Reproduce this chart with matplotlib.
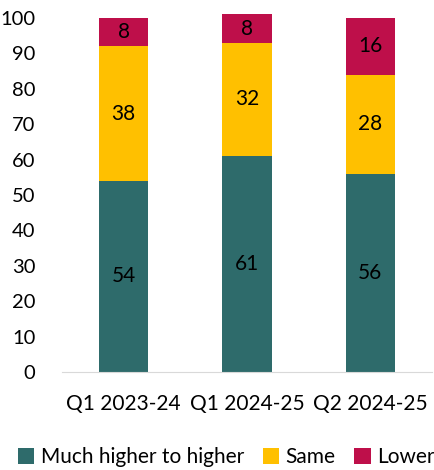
import matplotlib.pyplot as plt
import numpy as np

plt.rcParams['font.family'] = ['Lato', 'DejaVu Sans']

quarters = ['Q1 2023-24', 'Q1 2024-25', 'Q2 2024-25']
higher = [54, 61, 56]
same = [38, 32, 28]
lower = [8, 8, 16]

series = [('Much higher to higher', higher, '#2E6B6B'),
          ('Same', same, '#FFC000'),
          ('Lower', lower, '#BE0F4A')]

fig = plt.figure(figsize=(4.35, 4.7), dpi=100)
ax = fig.add_axes([0.1425, 0.2085, 0.8505, 0.7532])

x = np.arange(len(quarters))
bottom = np.zeros(len(quarters))
for name, vals, col in series:
    bars = ax.bar(x, vals, 0.4, bottom=bottom, color=col, label=name, clip_on=False)
    for b, v in zip(bars, vals):
        ax.text(b.get_x() + b.get_width() / 2, b.get_y() + v / 2, str(v),
                ha='center', va='center', fontsize=15, color='black')
    bottom += np.array(vals)

ax.set_xlim(-0.5, 2.5)
ax.set_ylim(0, 100)
ax.set_yticks(range(0, 101, 10))
ax.set_xticks(x)
ax.set_xticklabels(quarters)
ax.tick_params(axis='both', length=0, labelsize=15)
ax.tick_params(axis='y', pad=19, labelsize=14.5)
ax.tick_params(axis='x', pad=16)
for s in ['top', 'right', 'left']:
    ax.spines[s].set_visible(False)
ax.spines['bottom'].set_color('#D9D9D9')

fig.legend(loc='center', bbox_to_anchor=(0.52, 0.028), ncol=3, frameon=False,
           fontsize=15, handlelength=0.8, handleheight=0.8, handletextpad=0.3,
           columnspacing=0.9)

fig.savefig('out.png', dpi=100)
